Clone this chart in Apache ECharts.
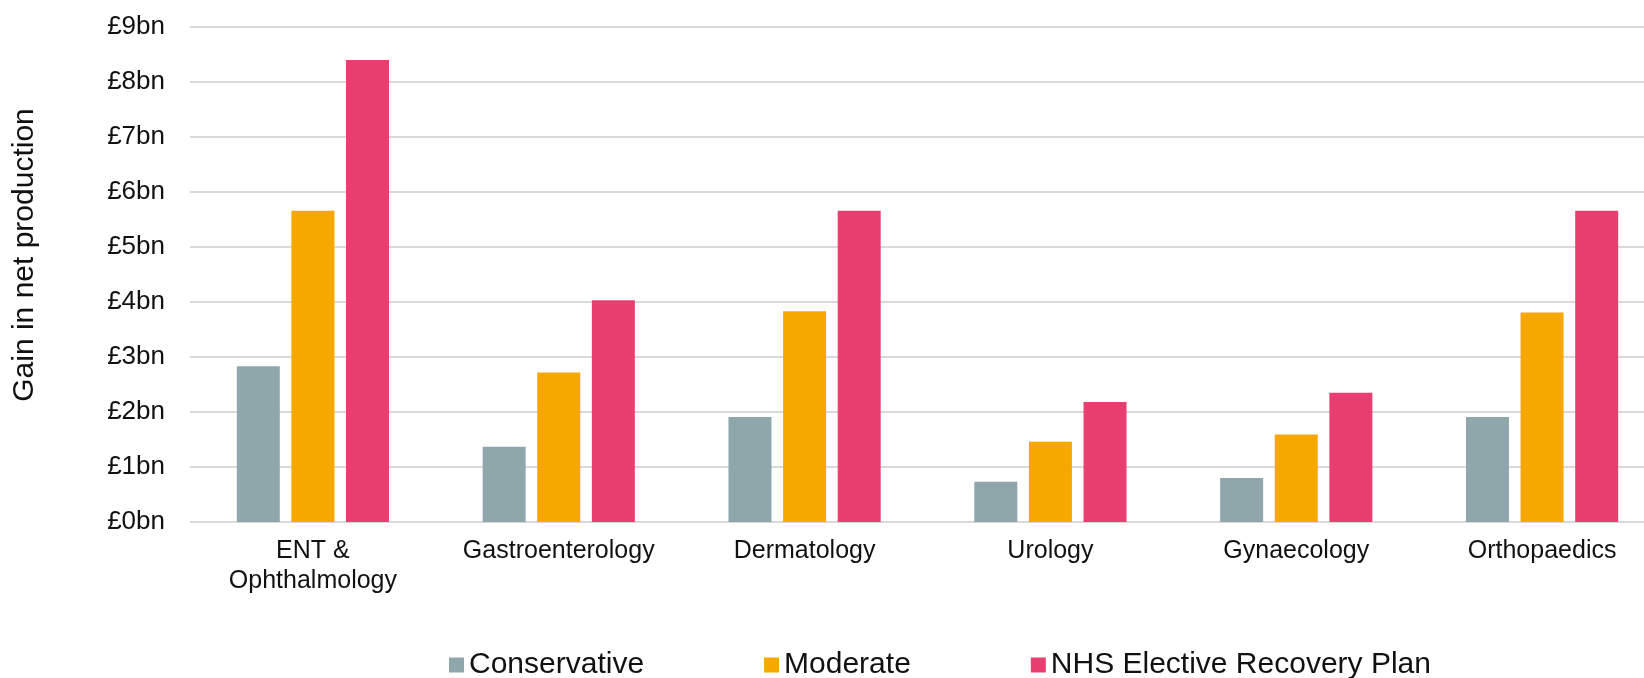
<!DOCTYPE html>
<html>
<head>
<meta charset="utf-8">
<title>Gain in net production</title>
<script src="https://cdn.jsdelivr.net/npm/echarts@6/dist/echarts.min.js"></script>
<style>
  html, body { margin: 0; padding: 0; background: #fff; }
  #chart { width: 1644px; height: 678px; }
</style>
</head>
<body>
<div id="chart"></div>
<script>
// chart data (values in £bn)
var specialties = ['ENT &\nOphthalmology', 'Gastroenterology', 'Dermatology', 'Urology', 'Gynaecology', 'Orthopaedics']
var seriesNames = ['Conservative', 'Moderate', 'NHS Elective Recovery Plan']
var conservative = [2.83, 1.37, 1.91, 0.73, 0.80, 1.91]
var moderate = [5.66, 2.72, 3.83, 1.46, 1.59, 3.81]
var recoveryPlan = [8.40, 4.03, 5.66, 2.18, 2.35, 5.66]
var yTicks = { min: 0, max: 9, step: 1 }

var font = 'Liberation Sans, Arial, sans-serif'
var colors = ['#8fa7ab', '#f6a700', '#e93f70']

var myChart = echarts.init(document.getElementById('chart'))
var option = {
  animation: false,
  color: colors,
  textStyle: { fontFamily: font },
  // plot area runs past the right edge (the original is cropped there)
  grid: {
    left: 190,
    width: 1475,
    top: 27,
    bottom: 156,
    outerBoundsMode: 'none'
  },
  legend: {
    data: seriesNames,
    left: 449,
    top: 650,
    padding: 0,
    icon: 'rect',
    itemWidth: 15,
    itemHeight: 15,
    itemGap: 120,
    textStyle: {
      fontSize: 30,
      color: '#111',
      fontFamily: font
    }
  },
  xAxis: {
    type: 'category',
    data: specialties,
    axisLine: { show: false },
    axisTick: { show: false },
    axisLabel: {
      margin: 14,
      fontSize: 25,
      lineHeight: 30,
      color: '#111',
      fontFamily: font,
      interval: 0
    }
  },
  yAxis: {
    type: 'value',
    min: yTicks.min,
    max: yTicks.max,
    interval: yTicks.step,
    name: 'Gain in net production',
    nameLocation: 'middle',
    nameGap: 150,
    nameTextStyle: {
      fontSize: 30,
      lineHeight: 30,
      color: '#111',
      fontFamily: font,
      padding: [0, 0, 0, 39]
    },
    axisLine: { show: false },
    axisTick: { show: false },
    axisLabel: {
      margin: 25,
      fontSize: 26,
      color: '#111',
      fontFamily: font,
      formatter: '£{value}bn'
    },
    splitLine: {
      lineStyle: { color: '#d9d9d9', width: 2 }
    }
  },
  series: [{
    name: seriesNames[0],
    type: 'bar',
    barWidth: 43,
    barGap: '27%',
    data: conservative
  }, {
    name: seriesNames[1],
    type: 'bar',
    barWidth: 43,
    barGap: '27%',
    data: moderate
  }, {
    name: seriesNames[2],
    type: 'bar',
    barWidth: 43,
    barGap: '27%',
    data: recoveryPlan
  }]
}
myChart.setOption(option)
</script>
</body>
</html>
